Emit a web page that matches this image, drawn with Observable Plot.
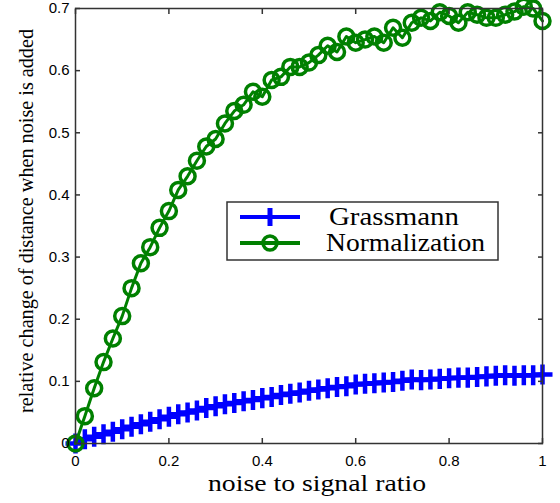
<!DOCTYPE html>
<html><head><meta charset="utf-8">
<script src="https://cdn.jsdelivr.net/npm/d3@7"></script>
<script src="https://cdn.jsdelivr.net/npm/@observablehq/plot@0.6"></script>
<style>
html,body{margin:0;padding:0;background:#fff;}
#wrap{position:relative;width:560px;height:503px;overflow:hidden;}
#legend{position:absolute;left:0;top:0;pointer-events:none;}
</style></head><body><div id="wrap"></div>
<script>
const noiseRatio = [0,0.02,0.04,0.06,0.08,0.10,0.12,0.14,0.16,0.18,0.20,0.22,0.24,0.26,0.28,0.30,0.32,0.34,0.36,0.38,0.40,0.42,0.44,0.46,0.48,0.50,0.52,0.54,0.56,0.58,0.60,0.62,0.64,0.66,0.68,0.70,0.72,0.74,0.76,0.78,0.80,0.82,0.84,0.86,0.88,0.90,0.92,0.94,0.96,0.98,1.00];
const grassmann = [0,0.007,0.011,0.015,0.019,0.023,0.027,0.031,0.035,0.039,0.043,0.047,0.050,0.053,0.057,0.060,0.063,0.065,0.068,0.070,0.073,0.075,0.078,0.080,0.082,0.085,0.087,0.089,0.091,0.092,0.095,0.096,0.097,0.098,0.099,0.101,0.103,0.102,0.103,0.104,0.105,0.106,0.106,0.107,0.108,0.109,0.110,0.109,0.110,0.110,0.111];
const normalization = [0,0.044,0.089,0.131,0.169,0.205,0.250,0.290,0.316,0.347,0.374,0.408,0.430,0.455,0.478,0.490,0.515,0.535,0.545,0.566,0.558,0.585,0.590,0.606,0.606,0.613,0.625,0.640,0.630,0.655,0.645,0.650,0.655,0.645,0.669,0.653,0.677,0.685,0.680,0.694,0.688,0.677,0.694,0.690,0.685,0.685,0.690,0.695,0.703,0.700,0.680];
const xTicks = [0,0.2,0.4,0.6,0.8,1];
const yTicks = [0,0.1,0.2,0.3,0.4,0.5,0.6,0.7];
const seriesNames = ["Grassmann","Normalization"];
const seriesColors = ["#0000ff","#008000"];
const xLabel = "noise to signal ratio";
const yLabel = "relative change of distance when noise is added";

const rowsG = noiseRatio.map((x,i)=>({x, y: grassmann[i]}));
const rowsN = noiseRatio.map((x,i)=>({x, y: normalization[i]}));
const axisColor = "#333";
const serif = "'Liberation Serif', 'Times New Roman', serif";

const chart = Plot.plot({
  width: 560, height: 503,
  marginLeft: 75, marginRight: 18, marginTop: 8, marginBottom: 60,
  style: {fontFamily: "'Liberation Sans', Arial, sans-serif", fontSize: "15px", color: "#000", background: "#fff"},
  x: {domain: [0,1]},
  y: {domain: [0,0.7]},
  marks: [
    Plot.line(rowsG, {x: "x", y: "y", stroke: seriesColors[0], strokeWidth: 4.5}),
    Plot.dot(rowsG, {x: "x", y: "y", symbol: "plus", r: 6.5, stroke: seriesColors[0], strokeWidth: 4.5}),
    Plot.line(rowsN, {x: "x", y: "y", stroke: seriesColors[1], strokeWidth: 3}),
    Plot.dot(rowsN, {x: "x", y: "y", symbol: "circle", r: 7.5, fill: "none", stroke: seriesColors[1], strokeWidth: 3.5}),
    Plot.frame({stroke: axisColor, strokeWidth: 1.5}),
    Plot.axisX({ticks: xTicks, anchor: "bottom", tickSize: -5, tickPadding: 17, tickFormat: d => String(d), label: null, stroke: axisColor, strokeWidth: 1.5, fill: "#000"}),
    Plot.axisX({ticks: xTicks, anchor: "top", tickSize: -5, tickFormat: () => "", label: null, stroke: axisColor, strokeWidth: 1.5}),
    Plot.axisY({ticks: yTicks, anchor: "left", tickSize: -5, tickPadding: 11, tickFormat: d => String(d), label: null, stroke: axisColor, strokeWidth: 1.5, fill: "#000"}),
    Plot.axisY({ticks: yTicks, anchor: "right", tickSize: -5, tickFormat: () => "", label: null, stroke: axisColor, strokeWidth: 1.5}),
    Plot.text([xLabel], {text: d => d, frameAnchor: "bottom", textAnchor: "middle", lineAnchor: "middle", dy: 40, dx: 8, fontFamily: serif, fontSize: 24, fill: "#000"}),
    Plot.text([yLabel], {text: d => d, frameAnchor: "left", textAnchor: "middle", lineAnchor: "middle", rotate: -90, dx: -49, dy: -5, fontFamily: serif, fontSize: 20, fill: "#000"})
  ]
});
const wrap = document.getElementById("wrap");
wrap.appendChild(chart);

// stretch axis labels to reference length
d3.select(chart).selectAll("text").each(function(){
  const t = this.textContent;
  if (t === xLabel) { this.setAttribute("textLength", 218); this.setAttribute("lengthAdjust", "spacingAndGlyphs"); }
  if (t === yLabel) { this.setAttribute("textLength", 384); this.setAttribute("lengthAdjust", "spacingAndGlyphs"); }
});

// legend
const lg = d3.select(wrap).append("svg").attr("id","legend").attr("width",560).attr("height",503);
lg.append("rect").attr("x",227).attr("y",202).attr("width",271).attr("height",58)
  .attr("fill","#fff").attr("stroke",axisColor).attr("stroke-width",1.5);
const rowsY = [217, 243];
const textW = [130, 159];
seriesNames.forEach((name,i)=>{
  const y = rowsY[i], c = seriesColors[i];
  lg.append("line").attr("x1",240).attr("x2",300).attr("y1",y).attr("y2",y).attr("stroke",c).attr("stroke-width",4);
  if (i === 0) {
    lg.append("line").attr("x1",270).attr("x2",270).attr("y1",y-9).attr("y2",y+9).attr("stroke",c).attr("stroke-width",5);
  } else {
    lg.append("circle").attr("cx",270).attr("cy",y).attr("r",7).attr("fill","none").attr("stroke",c).attr("stroke-width",3.5);
  }
  lg.append("text").attr("x", i===0 ? 329 : 326).attr("y", y+8).text(name)
    .attr("font-family", serif).attr("font-size", 25).attr("fill","#000")
    .attr("textLength", textW[i]).attr("lengthAdjust","spacingAndGlyphs");
});
</script></body></html>
